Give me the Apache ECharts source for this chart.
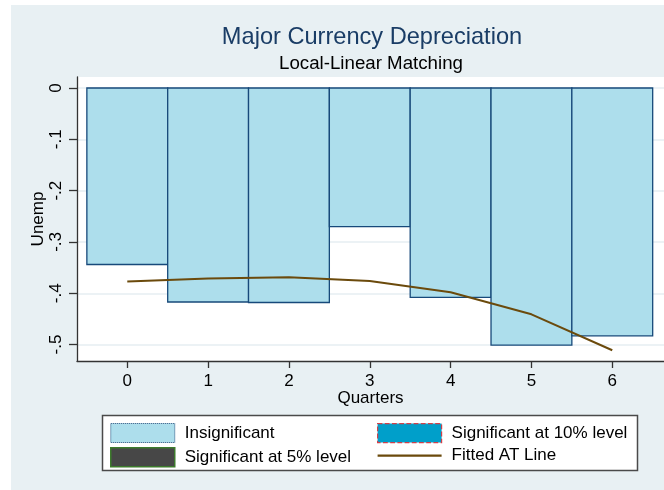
<!DOCTYPE html>
<html>
<head>
<meta charset="utf-8">
<script src="https://cdn.jsdelivr.net/npm/echarts@6/dist/echarts.min.js"></script>
<style>
  html, body { margin: 0; padding: 0; background: #ffffff; }
  #chart { width: 664px; height: 490px; }
</style>
</head>
<body>
<div id="chart"></div>
<script>
// Quarters after the depreciation event
const quarters = [0, 1, 2, 3, 4, 5, 6];
// Estimated effect on unemployment per quarter (all insignificant)
const unempEffect = [-0.344, -0.417, -0.418, -0.270, -0.408, -0.501, -0.483];
// Fitted average-treatment line
const fittedAT = [-0.377, -0.371, -0.369, -0.376, -0.398, -0.441, -0.511];
// Y axis ticks and their printed labels
const yTicks = [0, -0.1, -0.2, -0.3, -0.4, -0.5];
const yTickLabels = ['0', '-.1', '-.2', '-.3', '-.4', '-.5'];

const FONT = '"Liberation Sans", Arial, Helvetica, sans-serif';
const BG = '#e8f0f3';
const LINE_COLOR = '#6b4a0c';

const chart = echarts.init(document.getElementById('chart'), null, { renderer: 'canvas' });

const barData = quarters.map((q, i) => [q, unempEffect[i]]);
const lineData = quarters.map((q, i) => [q, fittedAT[i]]);

function labelFor(v) {
  const idx = yTicks.findIndex(t => Math.abs(t - v) < 1e-9);
  return idx >= 0 ? yTickLabels[idx] : '';
}

const legendCommon = {
  orient: 'vertical', top: 423, padding: 0,
  itemWidth: 64, itemHeight: 19, itemGap: 4,
  textStyle: { fontSize: 17, color: '#000', fontFamily: FONT, padding: [0, 0, 0, 5] },
  selectedMode: false
};

const option = {
  backgroundColor: '#ffffff',
  animation: false,
  textStyle: { fontFamily: FONT },
  graphic: [
    { type: 'rect', z: -10, silent: true,
      shape: { x: 11, y: 5, width: 653, height: 485 },
      style: { fill: BG } },
    { type: 'rect', z: -9, silent: true,
      shape: { x: 77, y: 77, width: 587, height: 284 },
      style: { fill: '#ffffff' } },
    { type: 'text', x: 372, y: 37, silent: true,
      style: { text: 'Major Currency Depreciation', fill: '#1a3d66', font: '23.6px ' + FONT,
               align: 'center', verticalAlign: 'middle' } },
    { type: 'text', x: 371, y: 64, silent: true,
      style: { text: 'Local-Linear Matching', fill: '#000000', font: '18.7px ' + FONT,
               align: 'center', verticalAlign: 'middle' } },
    { type: 'rect', z: -5, silent: true,
      shape: { x: 102.5, y: 415.5, width: 535, height: 55 },
      style: { fill: '#ffffff', stroke: '#4a4a4a', lineWidth: 1.5 } }
  ],
  grid: { left: 77, right: 0, top: 77, bottom: 129, containLabel: false },
  xAxis: {
    type: 'value', min: -0.622, max: 6.64,
    name: 'Quarters', nameLocation: 'middle', nameGap: 29, nameMoveOverlap: false,
    nameTextStyle: { fontSize: 17, color: '#000', fontFamily: FONT },
    axisLine: { show: true, onZero: false, lineStyle: { color: '#333333', width: 1.3 } },
    axisTick: { show: true, length: 7, customValues: quarters, lineStyle: { color: '#333333', width: 1.3 } },
    axisLabel: { customValues: quarters, fontSize: 17, color: '#000', margin: 12, fontFamily: FONT },
    splitLine: { show: false }
  },
  yAxis: {
    type: 'value', min: -0.532, max: 0.0214,
    name: 'Unemp', nameLocation: 'middle', nameGap: 30, nameRotate: 90, nameMoveOverlap: false,
    nameTextStyle: { fontSize: 17, color: '#000', fontFamily: FONT },
    axisLine: { show: true, onZero: false, lineStyle: { color: '#333333', width: 1.3 } },
    axisTick: { show: true, length: 8, customValues: yTicks, lineStyle: { color: '#333333', width: 1.3 } },
    axisLabel: { customValues: yTicks, rotate: 90, fontSize: 17, color: '#000', margin: 12,
                 fontFamily: FONT, formatter: labelFor },
    splitLine: { show: true, lineStyle: { color: '#e6eef2', width: 1.5 } }
  },
  legend: [
    Object.assign({}, legendCommon, {
      left: 110,
      data: [
        { name: 'Insignificant', icon: 'rect',
          itemStyle: { color: '#addeec', borderColor: '#1a4a78', borderWidth: 1, borderType: 'dotted' } },
        { name: 'Significant at 5% level', icon: 'rect',
          itemStyle: { color: '#474747', borderColor: '#3d7a2c', borderWidth: 1.5 } }
      ]
    }),
    Object.assign({}, legendCommon, {
      left: 377,
      data: [
        { name: 'Significant at 10% level', icon: 'rect',
          itemStyle: { color: '#009fca', borderColor: '#d0404a', borderWidth: 1.2, borderType: 'dashed' } },
        { name: 'Fitted AT Line', icon: 'path://M0,0H64V2.2H0Z',
          itemStyle: { color: LINE_COLOR, borderWidth: 0 } }
      ]
    })
  ],
  series: [
    {
      name: 'Insignificant', type: 'custom', data: barData, z: 2,
      encode: { x: 0, y: 1 },
      renderItem(params, api) {
        const q = api.value(0);
        const v = api.value(1);
        const a = api.coord([q - 0.5, 0]);
        const b = api.coord([q + 0.5, v]);
        return {
          type: 'rect',
          shape: { x: a[0], y: Math.min(a[1], b[1]), width: b[0] - a[0], height: Math.abs(b[1] - a[1]) },
          style: { fill: '#addeec', stroke: '#17497a', lineWidth: 1.3 }
        };
      },
      itemStyle: { color: '#addeec' }
    },
    {
      name: 'Significant at 10% level', type: 'custom', data: [],
      renderItem() { return null; },
      itemStyle: { color: '#009fca' }
    },
    {
      name: 'Significant at 5% level', type: 'custom', data: [],
      renderItem() { return null; },
      itemStyle: { color: '#474747' }
    },
    {
      name: 'Fitted AT Line', type: 'line', data: lineData, z: 5,
      symbol: 'none', showSymbol: false,
      lineStyle: { color: LINE_COLOR, width: 2 },
      itemStyle: { color: LINE_COLOR }
    }
  ]
};

chart.setOption(option);
</script>
</body>
</html>
